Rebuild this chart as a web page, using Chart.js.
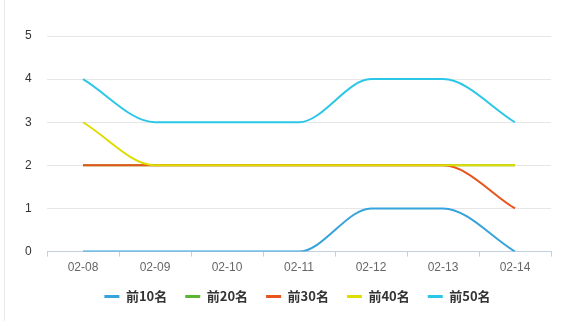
<!DOCTYPE html>
<html>
<head>
<meta charset="utf-8">
<script src="https://cdn.jsdelivr.net/npm/chart.js@4"></script>
<style>
    html, body { margin: 0; padding: 0; background: #fff; }
    .wrap { position: relative; width: 588px; height: 321px; }
    .wrap::before { content: ''; position: absolute; left: 4px; top: 0; bottom: 0; border-left: 1px solid #e8e8e8; }
</style>
</head>
<body>
<div class="wrap"><canvas id="trendChart" width="588" height="321"></canvas></div>
<script>
/* rank-band counts per day */
const days = ['02-08', '02-09', '02-10', '02-11', '02-12', '02-13', '02-14'];
const top10 = [0, 0, 0, 0, 1, 1, 0];
const top20 = [2, 2, 2, 2, 2, 2, 2];
const top30 = [2, 2, 2, 2, 2, 2, 1];
const top40 = [3, 2, 2, 2, 2, 2, 2];
const top50 = [4, 3, 3, 3, 4, 4, 3];
const yTicks = [0, 1, 2, 3, 4, 5];

const seriesDefs = [
    { label: '前10名', data: top10, color: '#36a3dd' },
    { label: '前20名', data: top20, color: '#5bb534' },
    { label: '前30名', data: top30, color: '#e8541c' },
    { label: '前40名', data: top40, color: '#dfdc00' },
    { label: '前50名', data: top50, color: '#2cc7e6' }
];

const ctx = document.getElementById('trendChart');

new Chart(ctx, {
    type: 'line',
    data: {
        labels: days,
        datasets: seriesDefs.map((s, i) => ({
            label: s.label,
            data: s.data,
            borderColor: s.color,
            backgroundColor: s.color,
            borderWidth: 2,
            pointRadius: 0,
            cubicInterpolationMode: 'monotone',
            fill: false,
            order: seriesDefs.length - i
        }))
    },
    options: {
        responsive: false,
        animation: false,
        layout: { padding: { left: 44, right: 37, top: 36, bottom: 8 } },
        plugins: {
            tooltip: { enabled: false },
            legend: {
                position: 'bottom',
                labels: {
                    boxWidth: 15,
                    boxHeight: 3,
                    padding: 18,
                    color: '#333',
                    font: { family: '"Noto Sans CJK SC", sans-serif', size: 13, weight: 'bold' },
                    generateLabels: chart => chart.data.datasets.map((d, i) => ({
                        text: d.label,
                        fillStyle: d.borderColor,
                        strokeStyle: d.borderColor,
                        lineWidth: 0,
                        fontColor: '#333',
                        datasetIndex: i
                    }))
                }
            }
        },
        scales: {
            x: {
                offset: true,
                afterFit: scale => { scale.height -= 7; },
                grid: {
                    offset: true,
                    drawOnChartArea: false,
                    drawTicks: true,
                    tickLength: 5,
                    color: '#c3d0e2'
                },
                border: { color: '#c3d0e2' },
                ticks: {
                    padding: 4,
                    color: '#666',
                    font: { family: '"Liberation Sans", Arial, sans-serif', size: 12 }
                }
            },
            y: {
                min: 0,
                max: 5,
                afterBuildTicks: scale => { scale.ticks = yTicks.map(v => ({ value: v })); },
                afterFit: scale => { scale.width = 3; },
                grid: { color: '#e6e6e6', drawTicks: false },
                border: { display: false },
                ticks: {
                    mirror: true,
                    padding: -22,
                    color: '#333',
                    font: { family: '"Liberation Sans", Arial, sans-serif', size: 12 }
                }
            }
        }
    }
});
</script>
</body>
</html>
